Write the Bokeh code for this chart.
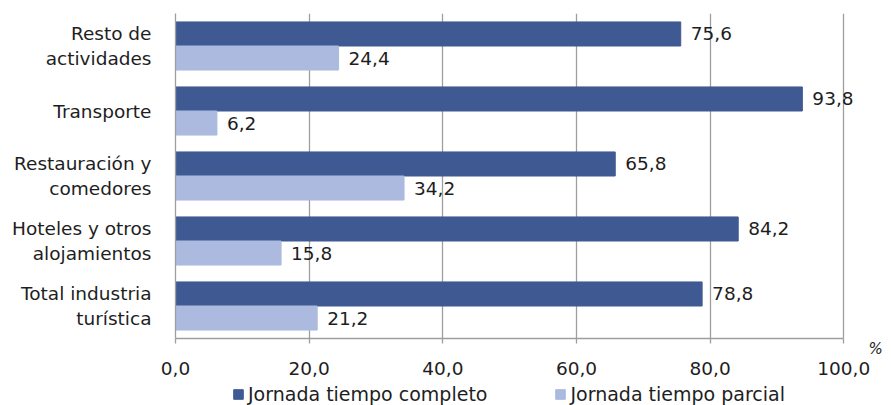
from bokeh.plotting import figure
from bokeh.layouts import column
from bokeh.models import (ColumnDataSource, Range1d, FixedTicker,
                          LabelSet, Legend, LegendItem, LinearAxis)
from bokeh.core.properties import value
from bokeh.transform import dodge
from bokeh.embed import file_html
from bokeh.resources import INLINE

categories = ["Resto de\nactividades", "Transporte", "Restauración y\ncomedores",
              "Hoteles y otros\nalojamientos", "Total industria\nturística"]
completo = [75.6, 93.8, 65.8, 84.2, 78.8]
parcial = [24.4, 6.2, 34.2, 15.8, 21.2]
series_names = ["Jornada tiempo completo", "Jornada tiempo parcial"]
x_ticks = [0, 20, 40, 60, 80, 100]
x_tick_labels = ["0,0", "20,0", "40,0", "60,0", "80,0", "100,0"]
unit_label = "%"

DARK = "#3F5A93"
LIGHT = "#ABBADE"
GRAY = "#9E9E9E"
TXT = "#1E1E1E"
FONT = "DejaVu Sans"
FS = "18.5px"

# layout: frame spans x = 175..886 px, with the value 100 placed at 843.3 px
X_END = 100 * (886 - 175) / (843.3 - 175)

def fmt(v):
    return f"{v:.1f}".replace(".", ",")

n = len(categories)
ypos = [n - 1 - i for i in range(n)]   # first category on top

source = ColumnDataSource(dict(
    y=ypos, completo=completo, parcial=parcial,
    lab_c=[fmt(v) for v in completo], lab_p=[fmt(v) for v in parcial]))

p = figure(width=891, height=383, output_backend="svg", toolbar_location=None,
           y_range=Range1d(-0.5, n - 0.5), x_range=Range1d(0, X_END),
           min_border_left=175, min_border_right=5, min_border_top=13,
           min_border_bottom=45)
p.outline_line_color = None
p.background_fill_color = "white"
p.border_fill_color = "white"

y_c = dodge("y", 0.185)
y_p = dodge("y", -0.185)
r1 = p.hbar(y=y_c, left=0, right="completo", height=0.37, color=DARK, source=source)
r2 = p.hbar(y=y_p, left=0, right="parcial", height=0.37, color=LIGHT, source=source)

for col, lab, yy in (("completo", "lab_c", y_c), ("parcial", "lab_p", y_p)):
    ls = LabelSet(x=col, y=yy, text=lab, source=source, x_offset=10,
                  text_baseline="middle", text_font=value(FONT),
                  text_font_size=value(FS), text_color=TXT)
    p.add_layout(ls)

p.ygrid.visible = False
p.xgrid.ticker = FixedTicker(ticks=x_ticks)
p.xgrid.grid_line_color = GRAY
p.xgrid.grid_line_width = 1.3

xa = p.xaxis[0]
xa.ticker = FixedTicker(ticks=x_ticks)
xa.bounds = (x_ticks[0], x_ticks[-1])
xa.major_label_overrides = dict(zip(x_ticks, x_tick_labels))
xa.axis_line_color = GRAY
xa.axis_line_width = 1.3
xa.major_tick_line_color = GRAY
xa.major_tick_line_width = 1.3
xa.major_tick_out = 5
xa.major_tick_in = 0
xa.minor_tick_line_color = None
xa.major_label_standoff = 18
xa.major_label_text_font = FONT
xa.major_label_text_font_size = FS
xa.major_label_text_color = TXT

ya = p.yaxis[0]
ya.ticker = FixedTicker(ticks=ypos)
ya.major_label_overrides = dict(zip(ypos, categories))
ya.axis_line_color = GRAY
ya.axis_line_width = 1.3
ya.major_tick_line_color = None
ya.minor_tick_line_color = None
ya.major_label_standoff = 18
ya.major_label_text_font = FONT
ya.major_label_text_font_size = FS
ya.major_label_text_color = TXT

# unit mark "%" just under the lower right corner: right-hand axis, one label
ua = LinearAxis(ticker=FixedTicker(ticks=[-0.499]),
                major_label_overrides={-0.499: " \n" + unit_label})
ua.axis_line_color = None
ua.major_tick_line_color = None
ua.minor_tick_line_color = None
ua.major_tick_out = 0
ua.major_tick_in = 0
ua.major_label_standoff = -18
ua.major_label_text_font = FONT
ua.major_label_text_font_size = "15px"
ua.major_label_text_font_style = "italic"
ua.major_label_text_color = TXT
p.add_layout(ua, "right")

# legend strip below the chart (keys drawn from the same data, kept out of view)
lg = figure(width=891, height=22, output_backend="svg", toolbar_location=None,
            x_range=Range1d(0, X_END), y_range=Range1d(n + 1, n + 2),
            min_border_left=175, min_border_right=5, min_border_top=0,
            min_border_bottom=0, x_axis_location=None, y_axis_location=None)
lg.outline_line_color = None
lg.grid.visible = False
k1 = lg.hbar(y="y", left=0, right="completo", height=0.37, color=DARK, source=source)
k2 = lg.hbar(y="y", left=0, right="parcial", height=0.37, color=LIGHT, source=source)
legend = Legend(items=[LegendItem(label=series_names[0], renderers=[k1]),
                       LegendItem(label=series_names[1], renderers=[k2])],
                location=(232 - 175, 0), orientation="horizontal",
                glyph_width=12, glyph_height=12, label_standoff=4, spacing=67,
                padding=0, margin=0, border_line_color=None,
                background_fill_alpha=0, label_text_font=FONT,
                label_text_font_size="19px", label_text_color=TXT)
lg.add_layout(legend, "center")

layout = column(p, lg, spacing=0)
open("out.html", "w").write(file_html(layout, INLINE))
